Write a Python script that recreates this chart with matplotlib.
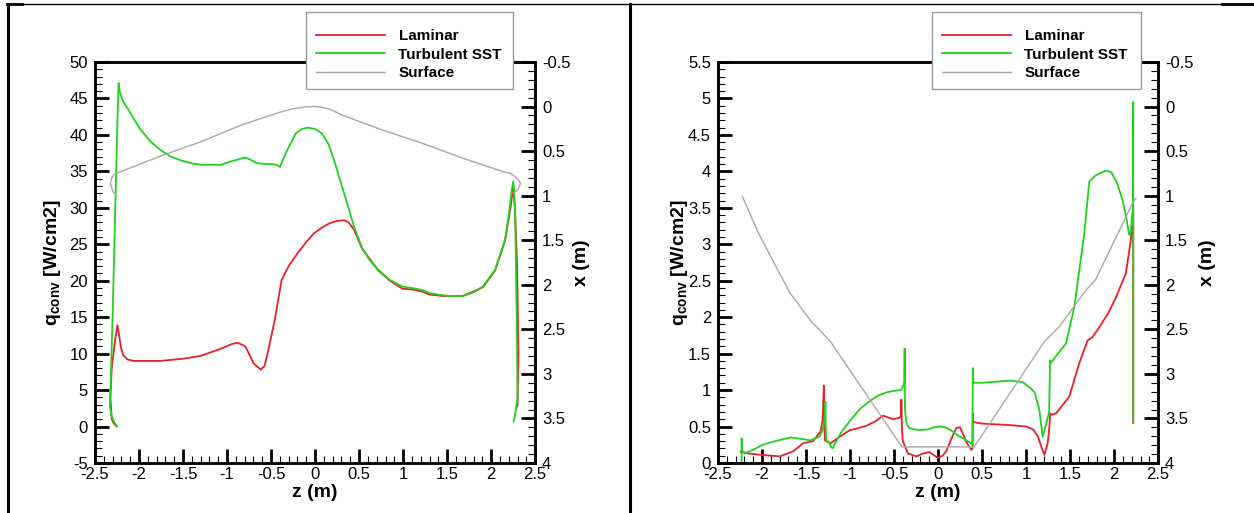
import numpy as np
import matplotlib
matplotlib.use("Agg")
import matplotlib.pyplot as plt
import matplotlib.ticker as mticker
from matplotlib.lines import Line2D
from matplotlib.patches import Rectangle

plt.rcParams["font.family"] = ["Liberation Sans", "DejaVu Sans"]
plt.rcParams["axes.unicode_minus"] = False
plt.rcParams["mathtext.fontset"] = "custom"
plt.rcParams["mathtext.rm"] = "Liberation Sans"
plt.rcParams["mathtext.bf"] = "Liberation Sans:bold"

RED = "#e8202a"
GREEN = "#1ed21e"
GREY = "#a8a8a8"

# ── left case: heat flux along z (W/cm2) ─────────────────────────────────────
lam_left_z = [-2.253, -2.29, -2.31, -2.325, -2.31, -2.27, -2.245, -2.225, -2.205, -2.18,
              -2.13, -2.064, -1.9, -1.753, -1.5, -1.295, -1.066, -0.95, -0.883, -0.792,
              -0.7, -0.617, -0.575, -0.54, -0.46, -0.38, -0.3, -0.197, -0.1, -0.014,
              0.08, 0.169, 0.25, 0.329, 0.38, 0.443, 0.534, 0.718, 0.85, 0.992, 1.1,
              1.221, 1.3, 1.45, 1.678, 1.907, 2.045, 2.158, 2.22, 2.25, 2.27, 2.295,
              2.31, 2.3, 2.285]
lam_left_q = [0.0, 0.5, 1.0, 4.0, 8.0, 12.0, 13.9, 12.5, 10.8, 9.8,
              9.2, 9.0, 9.0, 9.0, 9.3, 9.7, 10.7, 11.3, 11.5, 11.0,
              8.7, 7.8, 8.3, 10.0, 14.5, 20.1, 22.0, 23.8, 25.3, 26.5,
              27.3, 27.9, 28.2, 28.3, 28.0, 27.0, 24.4, 21.4, 20.0, 18.9, 18.8,
              18.5, 18.1, 17.9, 17.9, 19.1, 21.4, 25.5, 30.0, 32.8, 30.0, 22.0,
              10.0, 3.0, 2.5]

sst_left_z = [-2.253, -2.29, -2.31, -2.33, -2.30, -2.27, -2.245, -2.232, -2.22, -2.19,
              -2.15, -2.118, -2.05, -1.981, -1.87, -1.753, -1.65, -1.524, -1.4, -1.295,
              -1.066, -0.95, -0.792, -0.72, -0.655, -0.55, -0.495, -0.44, -0.40, -0.333,
              -0.22, -0.15, -0.083, 0.0, 0.077, 0.15, 0.214, 0.352, 0.443, 0.534, 0.62,
              0.718, 0.85, 0.992, 1.1, 1.221, 1.3, 1.45, 1.55, 1.678, 1.8, 1.907, 2.045,
              2.158, 2.2, 2.235, 2.25, 2.262, 2.275, 2.29, 2.3, 2.29, 2.27, 2.255]
sst_left_q = [0.0, 0.8, 1.35, 2.7, 15.0, 30.0, 42.0, 47.1, 46.0, 44.8,
              44.0, 43.4, 42.0, 40.7, 39.1, 37.9, 37.1, 36.5, 36.1, 35.9,
              35.9, 36.4, 36.9, 36.5, 36.1, 36.0, 36.0, 35.9, 35.6, 37.5,
              40.2, 40.8, 41.0, 40.8, 40.2, 38.8, 36.6, 31.1, 27.4, 24.5, 22.8,
              21.5, 20.1, 19.2, 19.0, 18.7, 18.3, 18.0, 17.9, 17.9, 18.4, 19.2, 21.5,
              25.6, 29.0, 32.5, 33.6, 32.5, 28.0, 15.0, 4.0, 3.2, 1.5, 0.7]

# surface coordinate x (m) along z, right-hand axis
surf_left_z = [-2.255, -2.30, -2.325, -2.31, -2.278, -2.21, -1.753, -1.295, -0.837,
               -0.38, -0.25, -0.106, 0.0, 0.077, 0.18, 0.306, 0.763, 1.221, 1.678,
               2.136, 2.22, 2.272, 2.315, 2.333, 2.32, 2.30, 2.25]
surf_left_x = [1.004, 0.95, 0.862, 0.80, 0.757, 0.731, 0.555, 0.394, 0.207,
               0.058, 0.025, 0.004, 0.0, 0.008, 0.035, 0.095, 0.263, 0.413, 0.58,
               0.731, 0.75, 0.787, 0.83, 0.862, 0.9, 0.937, 0.974]

# ── right case ───────────────────────────────────────────────────────────────
lam_right_z = [-2.243, -2.15, -2.005, -1.9, -1.797, -1.646, -1.533, -1.42, -1.336,
               -1.31, -1.298, -1.292, -1.285, -1.222, -1.117, -1.003, -0.9, -0.814,
               -0.7, -0.626, -0.512, -0.437, -0.42, -0.417, -0.41, -0.40, -0.342,
               -0.247, -0.17, -0.096, -0.04, -0.002, 0.05, 0.093, 0.15, 0.206, 0.25,
               0.32, 0.377, 0.392, 0.395, 0.40, 0.5, 0.81, 1.0, 1.08, 1.132, 1.18,
               1.207, 1.245, 1.265, 1.272, 1.29, 1.34, 1.49, 1.604, 1.698, 1.75,
               1.831, 1.93, 2.02, 2.133, 2.19, 2.209, 2.217, 2.217]
lam_right_q = [0.155, 0.13, 0.11, 0.10, 0.09, 0.16, 0.27, 0.30, 0.43,
               0.6, 1.06, 0.5, 0.31, 0.27, 0.36, 0.45, 0.48, 0.51,
               0.58, 0.65, 0.60, 0.62, 0.65, 0.87, 0.45, 0.30, 0.13,
               0.09, 0.13, 0.15, 0.10, 0.07, 0.10, 0.16, 0.33, 0.48, 0.49,
               0.29, 0.18, 0.20, 0.68, 0.56, 0.54, 0.52, 0.50, 0.46, 0.37, 0.20,
               0.11, 0.27, 0.50, 0.68, 0.66, 0.68, 0.91, 1.37, 1.68, 1.72,
               1.86, 2.05, 2.27, 2.60, 3.06, 3.39, 3.45, 0.55]

sst_right_z = [-2.232, -2.232, -2.222, -2.20, -2.10, -1.995, -1.85, -1.677, -1.55,
               -1.449, -1.35, -1.312, -1.29, -1.28, -1.276, -1.27, -1.24, -1.215,
               -1.198, -1.17, -1.1, -0.993, -0.88, -0.765, -0.67, -0.584, -0.5,
               -0.425, -0.41, -0.383, -0.38, -0.377, -0.36, -0.33, -0.22, -0.12,
               -0.04, 0.02, 0.08, 0.145, 0.22, 0.281, 0.35, 0.39, 0.395, 0.40, 0.5,
               0.6, 0.72, 0.828, 0.96, 1.056, 1.10, 1.15, 1.188, 1.21, 1.24, 1.262,
               1.272, 1.28, 1.35, 1.453, 1.548, 1.661, 1.718, 1.785, 1.85, 1.907,
               1.966, 2.03, 2.095, 2.14, 2.171, 2.19, 2.202, 2.212, 2.217, 2.217]
sst_right_q = [0.02, 0.34, 0.16, 0.13, 0.18, 0.25, 0.30, 0.35, 0.33,
               0.31, 0.36, 0.45, 0.6, 0.84, 0.5, 0.30, 0.29, 0.22,
               0.20, 0.27, 0.42, 0.59, 0.75, 0.86, 0.93, 0.97, 0.99,
               1.00, 1.02, 1.10, 1.57, 0.75, 0.55, 0.48, 0.45, 0.46,
               0.49, 0.50, 0.49, 0.45, 0.38, 0.34, 0.29, 0.25, 1.30, 1.10, 1.10,
               1.11, 1.12, 1.13, 1.11, 1.02, 0.96, 0.73, 0.36, 0.45, 0.60, 0.70,
               1.41, 1.37, 1.48, 1.64, 2.14, 3.15, 3.86, 3.94, 3.98, 4.01,
               3.99, 3.85, 3.61, 3.35, 3.13, 3.18, 3.39, 3.45, 4.95, 0.57]

surf_right_z = [-2.223, -2.04, -1.85, -1.677, -1.45, -1.221, -0.857, -0.41, 0.41,
                1.207, 1.377, 1.68, 1.785, 2.209, 2.248]
surf_right_x = [1.01, 1.42, 1.78, 2.10, 2.40, 2.64, 3.17, 3.82, 3.82,
                2.64, 2.47, 2.06, 1.95, 1.086, 1.03]

W, H = 1254, 513
fig = plt.figure(figsize=(W / 100, H / 100), dpi=100)


def style_axes(ax, ax_r, ylim, ymajor, yminor):
    ax.set_xlim(-2.5, 2.5)
    ax.set_ylim(*ylim)
    ax_r.set_ylim(4, -0.5)
    ax.xaxis.set_major_locator(mticker.MultipleLocator(0.5))
    ax.xaxis.set_minor_locator(mticker.MultipleLocator(0.1))
    ax.yaxis.set_major_locator(mticker.MultipleLocator(ymajor))
    ax.yaxis.set_minor_locator(mticker.MultipleLocator(yminor))
    ax_r.yaxis.set_major_locator(mticker.MultipleLocator(0.5))
    ax_r.yaxis.set_minor_locator(mticker.MultipleLocator(0.1))
    fmt = mticker.FormatStrFormatter("%g")
    ax.xaxis.set_major_formatter(fmt)
    ax.yaxis.set_major_formatter(fmt)
    ax_r.yaxis.set_major_formatter(fmt)
    for a in (ax, ax_r):
        for sp in a.spines.values():
            sp.set_linewidth(1.8)
    ax.tick_params(which="both", direction="in", top=False, right=False, labelsize=12)
    ax.tick_params(axis="y", which="major", length=10, width=2, pad=5)
    ax.tick_params(axis="x", which="major", length=10, width=2, pad=3)
    ax.tick_params(which="minor", length=5, width=0.8)
    ax_r.tick_params(which="both", direction="in", labelsize=12)
    ax_r.tick_params(which="major", length=10, width=2, pad=5)
    ax_r.tick_params(which="minor", length=5, width=0.8)
    ax.set_xlabel("z (m)", fontsize=14, fontweight="bold")
    ax.xaxis.set_label_coords(0.5, -0.052)
    ax.set_ylabel(r"$\mathbf{q_{conv}}$ [W/cm2]", fontsize=14, fontweight="bold")
    ax_r.set_ylabel("x (m)", fontsize=14, fontweight="bold")


def draw_panel(left, lam, sst, surf, ylim, ymajor, yminor, ylab_x, xlab_x):
    ax = fig.add_axes([left, 0.0975, 0.351, 0.7817])
    ax_r = ax.twinx()
    ax.plot(lam[0], lam[1], color=RED, lw=1.3, label="Laminar")
    ax.plot(sst[0], sst[1], color=GREEN, lw=1.3, label="Turbulent SST")
    ax_r.plot(surf[0], surf[1], color=GREY, lw=1.0, label="Surface")
    style_axes(ax, ax_r, ylim, ymajor, yminor)
    ax.yaxis.set_label_coords(ylab_x, 0.5)
    ax_r.yaxis.set_label_coords(xlab_x, 0.5)
    return ax, ax_r


draw_panel(95 / W, (lam_left_z, lam_left_q), (sst_left_z, sst_left_q),
           (surf_left_z, surf_left_x), (-5, 50), 5, 1, -0.073, 1.087)
draw_panel(718 / W, (lam_right_z, lam_right_q), (sst_right_z, sst_right_q),
           (surf_right_z, surf_right_x), (0, 5.5), 0.5, 0.1, -0.063, 1.093)

# legend boxes sit on top of the upper spine
handles = [
    Line2D([0], [0], color=RED, lw=1.3, label="Laminar"),
    Line2D([0], [0], color=GREEN, lw=1.3, label="Turbulent SST"),
    Line2D([0], [0], color=GREY, lw=1.0, label="Surface"),
]
for x0, x1 in ((306, 513), (932, 1141)):
    box = Rectangle((x0 / W, 1 - 89 / H), (x1 - x0) / W, 77 / H,
                    transform=fig.transFigure, facecolor="white",
                    edgecolor="#999999", lw=1.0, zorder=9)
    fig.add_artist(box)
    leg = fig.legend(handles=handles, loc="upper left",
                     bbox_to_anchor=((x0 + 10) / W, 1 - 29 / H),
                     bbox_transform=fig.transFigure, borderaxespad=0,
                     frameon=False, prop={"weight": "bold", "size": 11},
                     handlelength=4.5, handletextpad=0.9, borderpad=0,
                     labelspacing=0.31)
    leg.set_zorder(10)

# page frame lines
frame = [
    ([7 / W, 1.0], [1 - 4 / H, 1 - 4 / H], 1.0),
    ([7 / W, 22 / W], [1 - 4 / H, 1 - 4 / H], 2.0),
    ([1222 / W, 1.0], [1 - 4 / H, 1 - 4 / H], 2.0),
    ([7.5 / W, 7.5 / W], [0, 1 - 4 / H], 2.2),
    ([630 / W, 630 / W], [0, 1 - 4 / H], 2.2),
]
for xs, ys, lw in frame:
    fig.add_artist(Line2D(xs, ys, color="black", lw=lw, transform=fig.transFigure))

fig.savefig("out.png", dpi=100)
